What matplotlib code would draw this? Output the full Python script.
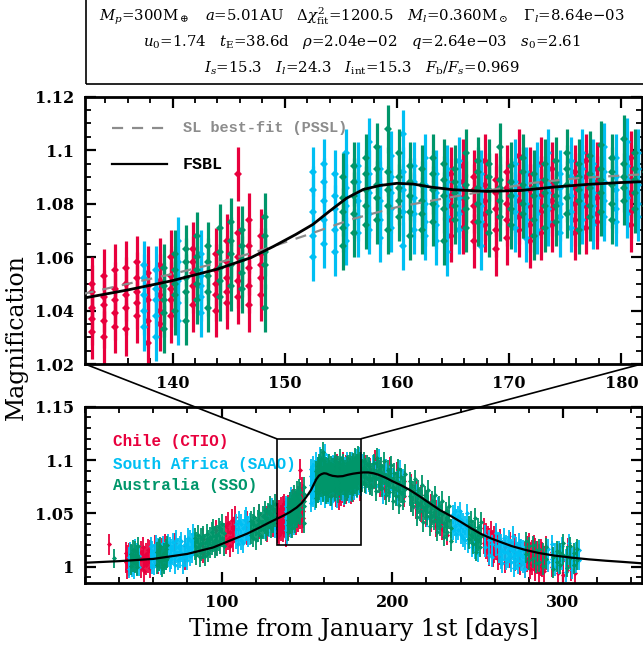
import numpy as np
import matplotlib.pyplot as plt
from matplotlib.patches import Rectangle, ConnectionPatch

# ---- photometry: night (days from Jan 1st) and the magnifications measured that night
chile_t = [34.3, 43.85, 44.85, 45.85,
           52.85, 53.85, 54.85, 55.85, 56.85, 57.85,
           60.85, 62.85, 64.85, 66.85,
           72.85, 78.85, 88.85, 96.85,
           102.85, 103.85, 104.85, 105.85, 106.85, 107.85,
           114.85, 121.85, 126.85, 129.85,
           132.85, 133.85, 134.85, 135.85, 136.85, 137.85, 138.85,
           139.85, 141.85, 143.85, 144.85, 145.85, 146.85, 147.85,
           164.85, 165.85, 166.85, 167.85, 168.85, 169.85, 170.85,
           171.85, 172.85, 173.85, 175.85, 176.85, 177.85, 180.85,
           183.85, 186.85, 189.85, 192.85, 195.85, 198.85, 202.85, 206.85,
           210.85, 213.85, 216.85, 219.85, 222.85, 225.85, 228.85, 231.85,
           253.85, 254.85, 255.85, 256.85, 257.85, 258.85, 259.85, 260.85, 261.85, 262.85,
           265.85, 268.85, 271.85, 274.85, 277.85,
           278.85, 279.85, 280.85, 281.85, 282.85, 283.85,
           284.85, 285.85, 286.85, 287.85, 288.85, 289.85,
           293.85, 296.85, 299.85, 302.85, 304.85, 306.85]
chile_mag = [[1.021], [1.004, 1.013], [1.010, 0.998], [1.001, 1.012],
             [1.014, 0.999], [1.006, 1.018], [0.996, 1.009], [1.012, 1.002], [1.004, 1.016], [1.015, 0.999],
             [1.009, 1.020], [1.003, 1.014], [1.017, 1.006], [1.008, 1.021],
             [1.010, 1.022], [1.019, 1.007], [1.013, 1.026], [1.021, 1.034],
             [1.038, 1.022], [1.026, 1.041], [1.033, 1.019], [1.044, 1.028], [1.024, 1.037], [1.035, 1.047],
             [1.030, 1.042], [1.036, 1.049], [1.047, 1.033], [1.038, 1.052],
             [1.032, 1.041, 1.047, 1.050, 1.037], [1.045, 1.053, 1.036, 1.042, 1.030],
             [1.048, 1.039, 1.055, 1.034, 1.044], [1.041, 1.050, 1.046, 1.033, 1.056],
             [1.052, 1.043, 1.038, 1.058, 1.047], [1.036, 1.049, 1.054, 1.044, 1.028],
             [1.046, 1.057, 1.040, 1.051, 1.035],
             [1.053, 1.044, 1.060, 1.038, 1.048], [1.049, 1.058, 1.042, 1.063, 1.054],
             [1.055, 1.046, 1.061, 1.050, 1.040], [1.058, 1.047, 1.066, 1.052, 1.043],
             [1.091, 1.060, 1.051, 1.069, 1.045], [1.056, 1.064, 1.049, 1.074, 1.042],
             [1.061, 1.052, 1.068, 1.046, 1.057],
             [1.083, 1.074, 1.091, 1.068, 1.079], [1.077, 1.088, 1.071, 1.094, 1.082],
             [1.085, 1.066, 1.079, 1.090, 1.073], [1.072, 1.081, 1.096, 1.076, 1.087],
             [1.089, 1.078, 1.070, 1.084, 1.063], [1.080, 1.092, 1.074, 1.067, 1.086],
             [1.075, 1.086, 1.098, 1.081, 1.070],
             [1.091, 1.079, 1.072, 1.085, 1.066], [1.083, 1.095, 1.077, 1.069, 1.088],
             [1.078, 1.087, 1.072, 1.093, 1.081], [1.086, 1.074, 1.092, 1.080, 1.069],
             [1.079, 1.090, 1.083, 1.071, 1.096], [1.088, 1.076, 1.082, 1.093, 1.073],
             [1.084, 1.097, 1.077, 1.089, 1.072],
             [1.079, 1.095], [1.092, 1.078], [1.083, 1.099], [1.075, 1.090],
             [1.087, 1.073], [1.079, 1.093], [1.072, 1.088], [1.066, 1.080],
             [1.061, 1.077], [1.070, 1.055], [1.052, 1.067], [1.062, 1.047],
             [1.043, 1.058], [1.053, 1.038], [1.035, 1.049], [1.044, 1.030],
             [1.022, 1.036], [1.031, 1.017], [1.014, 1.028], [1.026, 1.011], [1.019, 1.033],
             [1.010, 1.024], [1.028, 1.013], [1.016, 1.030], [1.007, 1.021], [1.025, 1.012],
             [1.018, 1.004], [1.009, 1.023], [1.021, 1.006], [1.002, 1.016], [1.013, 0.999],
             [1.019, 1.005], [1.008, 1.022], [0.998, 1.012], [1.015, 1.002], [1.006, 1.020], [1.017, 0.997],
             [1.003, 1.014], [1.011, 0.995], [1.001, 1.016], [1.013, 1.000], [0.996, 1.009], [1.007, 1.019],
             [1.000, 1.014], [1.011, 0.994], [0.992, 1.006], [1.004, 1.017], [1.010, 0.997], [0.994, 1.008]]

saao_t = [45.5, 46.5, 47.5, 48.5, 49.5, 50.5, 51.5,
          58.5, 59.5, 60.5, 61.5, 62.5, 63.5, 64.5, 65.5, 66.5, 67.5, 68.5, 69.5, 70.5,
          71.5, 72.5, 73.5, 74.5, 75.5, 76.5, 77.5, 78.5, 79.5, 80.5, 81.5, 82.5, 83.5,
          108.5, 109.5, 110.5, 111.5, 112.5, 113.5, 114.5, 115.5, 116.5,
          125.5, 127.5, 129.5, 131.5,
          137.5, 138.5, 140.5, 142.5,
          152.5, 153.5, 154.5, 155.5, 156.5, 157.5, 158.5, 159.5, 160.5, 161.5,
          162.5, 163.5, 164.5, 165.5, 167.5,
          170.5, 171.5, 172.5, 173.5, 174.5, 175.5, 176.5, 177.5, 178.5, 179.5, 180.5, 181.5,
          182.5, 184.5, 186.5, 188.5, 190.5, 192.5, 194.5, 196.5, 198.5, 200.5, 202.5, 204.5, 206.5,
          214.5, 220.5, 226.5,
          235.5, 236.5, 237.5, 238.5, 239.5, 240.5, 241.5, 242.5, 243.5, 244.5,
          246.5, 248.5, 250.5,
          254.5, 256.5, 258.5, 260.5, 262.5,
          263.5, 264.5, 265.5, 266.5, 267.5, 268.5, 269.5, 270.5, 271.5, 272.5,
          273.5, 274.5, 275.5, 276.5, 277.5,
          291.5, 293.5, 295.5, 297.5, 299.5, 301.5, 303.5, 305.5, 307.5, 309.5]
saao_mag = [[1.009, 0.998], [1.003, 1.014], [1.011, 0.999], [0.997, 1.008], [1.006, 1.017], [1.013, 1.001], [1.000, 1.010],
            [1.007, 1.019], [1.015, 1.002], [1.001, 1.012], [1.010, 1.021], [1.018, 1.004], [1.005, 1.016],
            [1.013, 1.001], [1.020, 1.008], [1.003, 1.014], [1.016, 1.006], [1.009, 1.022], [1.019, 1.004], [1.007, 1.017],
            [1.023, 1.011], [1.002, 1.014], [1.012, 1.025], [1.018, 1.006], [1.008, 1.020], [1.024, 1.013],
            [1.011, 1.002], [1.021, 1.009], [1.006, 1.018], [1.016, 1.027], [1.025, 1.010], [1.012, 1.023], [1.019, 1.031],
            [1.026, 1.040], [1.035, 1.021], [1.029, 1.043], [1.040, 1.025], [1.022, 1.036], [1.044, 1.031],
            [1.033, 1.047], [1.027, 1.039], [1.041, 1.029],
            [1.035, 1.048], [1.050, 1.037], [1.041, 1.055], [1.046, 1.036],
            [1.040, 1.052, 1.046, 1.034, 1.057], [1.048, 1.038, 1.055, 1.030, 1.044],
            [1.066, 1.051, 1.043, 1.058, 1.036], [1.053, 1.045, 1.061, 1.039, 1.049],
            [1.092, 1.077, 1.068, 1.085, 1.060], [1.074, 1.088, 1.065, 1.081, 1.095],
            [1.083, 1.070, 1.091, 1.062, 1.078], [1.079, 1.099, 1.072, 1.086, 1.066],
            [1.088, 1.075, 1.081, 1.069, 1.094], [1.103, 1.084, 1.076, 1.091, 1.070],
            [1.081, 1.093, 1.074, 1.087, 1.067], [1.090, 1.078, 1.098, 1.071, 1.084],
            [1.106, 1.085, 1.077, 1.064, 1.092], [1.082, 1.094, 1.070, 1.088, 1.076],
            [1.087, 1.073, 1.097, 1.080, 1.068], [1.079, 1.091, 1.084, 1.072, 1.066],
            [1.093, 1.081, 1.075, 1.088, 1.062], [1.076, 1.086, 1.096, 1.070, 1.082],
            [1.085, 1.073, 1.091, 1.079, 1.064],
            [1.088, 1.077, 1.071, 1.095, 1.083], [1.080, 1.092, 1.074, 1.086, 1.067],
            [1.094, 1.082, 1.076, 1.089, 1.070], [1.078, 1.087, 1.099, 1.073, 1.084],
            [1.091, 1.080, 1.069, 1.086, 1.075], [1.083, 1.096, 1.077, 1.090, 1.071],
            [1.087, 1.074, 1.093, 1.080, 1.099], [1.079, 1.090, 1.084, 1.072, 1.095],
            [1.092, 1.081, 1.088, 1.075, 1.101], [1.085, 1.097, 1.078, 1.090, 1.073],
            [1.089, 1.082, 1.103, 1.076, 1.094], [1.093, 1.080, 1.087, 1.099, 1.075],
            [1.084, 1.097], [1.091, 1.077], [1.079, 1.094], [1.096, 1.083], [1.076, 1.090],
            [1.088, 1.101], [1.081, 1.068], [1.092, 1.078], [1.073, 1.086], [1.084, 1.070],
            [1.067, 1.081], [1.077, 1.091], [1.069, 1.083],
            [1.055, 1.069], [1.060, 1.046], [1.041, 1.056],
            [1.049, 1.034], [1.038, 1.052], [1.045, 1.031], [1.034, 1.048], [1.052, 1.039],
            [1.030, 1.044], [1.041, 1.027], [1.025, 1.039], [1.036, 1.050], [1.022, 1.035],
            [1.031, 1.018], [1.016, 1.029], [1.027, 1.013],
            [1.018, 1.030], [1.025, 1.011], [1.009, 1.021], [1.019, 1.032], [1.012, 1.024],
            [1.022, 1.007], [1.003, 1.016], [1.014, 1.027], [1.021, 1.006], [1.008, 1.020],
            [1.025, 1.012], [1.004, 1.017], [1.015, 1.029], [1.010, 0.999], [1.019, 1.006],
            [1.002, 1.014], [1.012, 1.023], [1.005, 1.017], [1.016, 1.003], [0.998, 1.010],
            [1.017, 1.004], [1.007, 1.021], [1.013, 1.000], [1.002, 1.015], [1.019, 1.006],
            [1.008, 0.995], [1.011, 1.022], [0.997, 1.009], [1.014, 1.003], [1.006, 1.016]]

sso_t = [37.2, 47.2, 48.2, 49.2, 50.2, 51.2,
         62.2, 63.2, 64.2, 65.2, 66.2, 67.2, 68.2,
         84.2, 85.2, 86.2, 87.2, 88.2, 89.2, 90.2, 91.2, 92.2,
         93.2, 94.2, 95.2, 96.2, 97.2, 98.2, 99.2, 100.2, 101.2,
         117.2, 118.2, 119.2, 120.2, 121.2, 122.2, 123.2, 124.2,
         125.2, 126.2, 127.2, 128.2, 129.2, 130.2, 131.2,
         139.2, 140.2, 141.2, 142.2, 143.2, 144.2, 145.2, 146.2, 148.2,
         155.2, 156.2, 157.2, 158.2, 159.2, 160.2, 161.2, 162.2, 163.2,
         164.2, 165.2, 166.2, 167.2, 168.2, 169.2, 170.2, 171.2, 172.2,
         173.2, 174.2, 175.2, 176.2, 177.2, 178.2, 179.2, 180.2, 181.2,
         182.2, 183.2, 184.2, 185.2, 186.2, 187.2, 188.2, 189.2, 190.2,
         191.2, 192.2, 193.2, 194.2, 195.2, 196.2, 197.2, 198.2, 199.2,
         200.2, 201.2, 202.2, 203.2, 204.2, 205.2, 206.2, 207.2,
         210.2, 211.2, 212.2, 213.2, 214.2, 215.2, 216.2, 217.2, 218.2,
         219.2, 220.2, 221.2, 222.2, 223.2, 224.2, 225.2, 226.2, 227.2,
         228.2, 229.2, 230.2, 231.2, 232.2, 233.2, 234.2,
         245.2, 246.2, 247.2, 248.2, 249.2, 250.2, 251.2, 252.2,
         278.2, 280.2, 282.2, 284.2, 286.2, 288.2, 290.2,
         294.2, 296.2, 298.2, 300.2, 302.2, 304.2, 306.2, 308.2]
sso_mag = [[1.008], [1.012, 1.001], [1.004, 1.016], [1.015, 1.003], [1.000, 1.011], [1.009, 1.019],
           [1.014, 1.002], [1.005, 1.017], [1.019, 1.008], [1.010, 0.999], [1.002, 1.013], [1.017, 1.006], [1.008, 1.020],
           [1.015, 1.027], [1.024, 1.011], [1.018, 1.030], [1.009, 1.021], [1.027, 1.014], [1.016, 1.029],
           [1.022, 1.010], [1.031, 1.018], [1.013, 1.025],
           [1.028, 1.017], [1.020, 1.033], [1.036, 1.023], [1.017, 1.029], [1.030, 1.019], [1.024, 1.037],
           [1.034, 1.021], [1.027, 1.040], [1.019, 1.032],
           [1.030, 1.043], [1.040, 1.027], [1.034, 1.047], [1.025, 1.038], [1.044, 1.032], [1.037, 1.050],
           [1.029, 1.042], [1.048, 1.035],
           [1.040, 1.053], [1.033, 1.046], [1.051, 1.038], [1.044, 1.057], [1.036, 1.049], [1.054, 1.041], [1.046, 1.059],
           [1.049, 1.039, 1.056, 1.044, 1.033], [1.055, 1.046, 1.040, 1.061, 1.050],
           [1.047, 1.058, 1.052, 1.036, 1.063], [1.060, 1.050, 1.044, 1.068, 1.055],
           [1.053, 1.064, 1.047, 1.058, 1.041], [1.062, 1.051, 1.071, 1.056, 1.045],
           [1.057, 1.066, 1.049, 1.073, 1.061], [1.064, 1.054, 1.070, 1.059, 1.048],
           [1.068, 1.057, 1.075, 1.041, 1.062],
           [1.082, 1.071, 1.090, 1.064, 1.077], [1.088, 1.076, 1.094, 1.069, 1.083],
           [1.079, 1.091, 1.085, 1.072, 1.097], [1.093, 1.082, 1.074, 1.101, 1.087],
           [1.085, 1.108, 1.079, 1.092, 1.070], [1.090, 1.081, 1.099, 1.075, 1.086],
           [1.083, 1.094, 1.077, 1.088, 1.068], [1.087, 1.076, 1.093, 1.081, 1.070],
           [1.080, 1.091, 1.085, 1.073, 1.097],
           [1.089, 1.078, 1.083, 1.095, 1.066], [1.084, 1.093, 1.074, 1.088, 1.079],
           [1.078, 1.087, 1.099, 1.082, 1.071], [1.092, 1.080, 1.086, 1.073, 1.096],
           [1.085, 1.095, 1.077, 1.090, 1.069], [1.081, 1.089, 1.101, 1.075, 1.086],
           [1.094, 1.083, 1.078, 1.088, 1.072], [1.087, 1.097, 1.080, 1.092, 1.076],
           [1.083, 1.091, 1.074, 1.086, 1.068],
           [1.095, 1.084, 1.089, 1.079, 1.071], [1.088, 1.079, 1.096, 1.083, 1.073],
           [1.082, 1.093, 1.087, 1.076, 1.099], [1.090, 1.081, 1.095, 1.085, 1.070],
           [1.086, 1.098, 1.079, 1.091, 1.075], [1.093, 1.084, 1.089, 1.077, 1.102],
           [1.080, 1.092, 1.087, 1.074, 1.097], [1.095, 1.086, 1.081, 1.090, 1.104],
           [1.089, 1.099, 1.084, 1.093, 1.078],
           [1.092, 1.079], [1.085, 1.099], [1.078, 1.093], [1.096, 1.083], [1.081, 1.094],
           [1.090, 1.076], [1.075, 1.088], [1.097, 1.084], [1.083, 1.071],
           [1.089, 1.102], [1.078, 1.091], [1.094, 1.080], [1.074, 1.087], [1.086, 1.099],
           [1.079, 1.067], [1.091, 1.077], [1.070, 1.084], [1.082, 1.095],
           [1.075, 1.062], [1.088, 1.074], [1.066, 1.080], [1.079, 1.092], [1.071, 1.058],
           [1.084, 1.069], [1.062, 1.076], [1.073, 1.087],
           [1.066, 1.080], [1.075, 1.060], [1.057, 1.071], [1.068, 1.082], [1.061, 1.047],
           [1.072, 1.058], [1.052, 1.066], [1.063, 1.077], [1.056, 1.042],
           [1.067, 1.053], [1.048, 1.062], [1.058, 1.072], [1.051, 1.038], [1.062, 1.048],
           [1.043, 1.057], [1.054, 1.067], [1.046, 1.033], [1.057, 1.043],
           [1.038, 1.052], [1.049, 1.062], [1.041, 1.028], [1.052, 1.038], [1.033, 1.047],
           [1.044, 1.057], [1.036, 1.024],
           [1.039, 1.026], [1.030, 1.043], [1.021, 1.035], [1.033, 1.046], [1.026, 1.014],
           [1.037, 1.024], [1.018, 1.031], [1.029, 1.042],
           [1.012, 1.024], [1.019, 1.006], [1.008, 1.020], [1.015, 1.003], [1.004, 1.017],
           [1.013, 1.001], [1.018, 1.007],
           [1.009, 0.998], [1.015, 1.004], [1.002, 1.013], [1.011, 1.022], [0.999, 1.010],
           [1.008, 1.019], [1.013, 1.002], [1.017, 1.006]]

chile_err, saao_err, sso_err = 0.010, 0.009, 0.009

# ---- model light curves
fsbl_t = [20, 40, 60, 80, 95, 105, 115, 122, 128, 132, 136, 140, 144, 147, 149, 151,
          152.5, 154, 155.5, 157, 158.5, 160, 161.5, 163, 165, 168, 171, 174, 177, 180,
          183, 186, 189, 192, 196, 200, 205, 210, 216, 222, 228, 234, 240, 246, 252, 258,
          264, 270, 278, 286, 295, 305, 315, 325, 335, 346]
fsbl_mag = [1.0037, 1.0052, 1.0073, 1.0120, 1.0180, 1.0245, 1.0310, 1.0365, 1.0415, 1.0446,
            1.0477, 1.0512, 1.0555, 1.0598, 1.0640, 1.0685, 1.0722, 1.0772, 1.0820, 1.0853,
            1.0868, 1.0876, 1.0873, 1.0862, 1.0852, 1.0846, 1.0849, 1.0862, 1.0872, 1.0879,
            1.0884, 1.0884, 1.0876, 1.0862, 1.0835, 1.0802, 1.0765, 1.0722, 1.0660, 1.0594,
            1.0530, 1.0478, 1.0421, 1.0362, 1.0307, 1.0264, 1.0228, 1.0193, 1.0157, 1.0128,
            1.0104, 1.0085, 1.0069, 1.0056, 1.0045, 1.0032]
pssl_t = [132, 136, 140, 144, 148, 152, 156, 160, 164, 168, 172, 176, 180, 182]
pssl_mag = [1.0462, 1.0500, 1.0537, 1.0578, 1.0627, 1.0683, 1.0742, 1.0787, 1.0818,
            1.0848, 1.0877, 1.0895, 1.0905, 1.0910]

zoom_t = (132.2, 181.8)
zoom_mag = (1.02, 1.12)

params = [r'$M_p$=300M$_\oplus$   $a$=5.01AU   $\Delta\chi^2_{\rm fit}$=1200.5   '
          r'$M_l$=0.360M$_\odot$   $\Gamma_l$=8.64e$-$03',
          r'$u_0$=1.74   $t_{\rm E}$=38.6d   $\rho$=2.04e$-$02   $q$=2.64e$-$03   $s_0$=2.61',
          r'$I_s$=15.3   $I_l$=24.3   $I_{\rm int}$=15.3   $F_{\rm b}/F_s$=0.969']

for nights, mags in ((chile_t, chile_mag), (saao_t, saao_mag), (sso_t, sso_mag)):
    assert len(nights) == len(mags)


def expand(nights, mags):
    t = [n for n, m in zip(nights, mags) for _ in m]
    y = [v for m in mags for v in m]
    return np.array(t), np.array(y)


plt.rcParams['font.family'] = 'DejaVu Serif'
plt.rcParams['mathtext.fontset'] = 'dejavuserif'

RED, CYAN, GREEN = '#E8003D', '#00BFF3', '#00966A'
sets = [(chile_t, chile_mag, chile_err, RED),
        (saao_t, saao_mag, saao_err, CYAN),
        (sso_t, sso_mag, sso_err, GREEN)]

fig = plt.figure(figsize=(6.43, 6.46), dpi=100)
ax_up = fig.add_axes([0.1322, 0.4365, 0.8655, 0.4138])
ax_low = fig.add_axes([0.1322, 0.098, 0.8655, 0.2724])

for ax, ms, elw in ((ax_up, 4.4, 2.3), (ax_low, 2.6, 1.3)):
    for i, (nights, mags, err, col) in enumerate(sets):
        t, y = expand(nights, mags)
        ax.errorbar(t, y, yerr=err, fmt='D', ms=ms, color=col, ecolor=col,
                    elinewidth=elw, capsize=0, mew=0, zorder=2 + i)

ax_up.plot(pssl_t, pssl_mag, color='#8c8c8c', lw=1.6, ls=(0, (5, 4)), zorder=6)
ax_up.plot(fsbl_t, fsbl_mag, color='k', lw=2.0, zorder=7)
ax_low.plot(fsbl_t, fsbl_mag, color='k', lw=1.6, zorder=7)

ax_up.set_xlim(*zoom_t)
ax_up.set_ylim(*zoom_mag)
ax_low.set_xlim(20, 346)
ax_low.set_ylim(0.985, 1.15)

ax_up.set_xticks([140, 150, 160, 170, 180])
ax_up.set_xticks(np.arange(134, 182, 2), minor=True)
ax_up.set_yticks([1.02, 1.04, 1.06, 1.08, 1.10, 1.12])
ax_up.set_yticks(np.arange(1.02, 1.1201, 0.005), minor=True)
ax_up.set_yticklabels(['1.02', '1.04', '1.06', '1.08', '1.1', '1.12'])
ax_low.set_xticks([100, 200, 300])
ax_low.set_xticks(np.arange(20, 346, 20), minor=True)
ax_low.set_yticks([1.0, 1.05, 1.10, 1.15])
ax_low.set_yticks(np.arange(0.99, 1.151, 0.01), minor=True)
ax_low.set_yticklabels(['1', '1.05', '1.1', '1.15'])

for ax in (ax_up, ax_low):
    for s in ax.spines.values():
        s.set_linewidth(2.0)
    ax.tick_params(which='both', direction='in', top=True, right=True, labelsize=11.5, pad=8)
    ax.tick_params(which='major', length=8, width=1.6)
    ax.tick_params(which='minor', length=4.5, width=1.3)
    for lab in ax.get_xticklabels() + ax.get_yticklabels():
        lab.set_fontweight('bold')

# legends
ax_up.plot([0.0485, 0.147], [0.882, 0.882], transform=ax_up.transAxes,
           color='#8c8c8c', lw=1.6, ls=(0, (5, 4)))
ax_up.text(0.1755, 0.882, 'SL best-fit (PSSL)', transform=ax_up.transAxes, va='center',
           color='#8c8c8c', family='Liberation Mono', weight='bold', fontsize=11)
ax_up.plot([0.0485, 0.147], [0.748, 0.748], transform=ax_up.transAxes, color='k', lw=1.6)
ax_up.text(0.1755, 0.748, 'FSBL', transform=ax_up.transAxes, va='center',
           color='k', family='Liberation Mono', weight='bold', fontsize=12)
for yy, label, col in ((0.801, 'Chile (CTIO)', RED), (0.674, 'South Africa (SAAO)', CYAN),
                       (0.551, 'Australia (SSO)', GREEN)):
    ax_low.text(0.0503, yy, label, transform=ax_low.transAxes, va='center',
                color=col, family='Liberation Mono', weight='bold', fontsize=11.5)

# zoom box and connectors
ax_low.add_patch(Rectangle((zoom_t[0], zoom_mag[0]), zoom_t[1] - zoom_t[0],
                           zoom_mag[1] - zoom_mag[0], fill=False, lw=1.2, zorder=9))
for xa, xb in ((zoom_t[0], 0), (zoom_t[1], 1)):
    con = ConnectionPatch(xyA=(xa, zoom_mag[1]), coordsA=ax_low.transData,
                          xyB=(xb, 0), coordsB=ax_up.transAxes, lw=1.2, color='k')
    fig.add_artist(con)

fig.text(0.026, 0.478, 'Magnification', rotation=90, ha='center', va='center', fontsize=17)
fig.text(0.566, 0.0248, 'Time from January 1st [days]', ha='center', va='center', fontsize=17)

# parameter box
fig.add_artist(Rectangle((86 / 643, 1 - 84 / 646), 0.9, 0.2, transform=fig.transFigure,
                         fill=False, lw=1.2, color='k'))
for yy, line in zip((16, 42, 68), params):
    fig.text(0.563, 1 - yy / 646, line, ha='center', va='center', fontsize=10.7)

fig.savefig('out.png', dpi=100)
